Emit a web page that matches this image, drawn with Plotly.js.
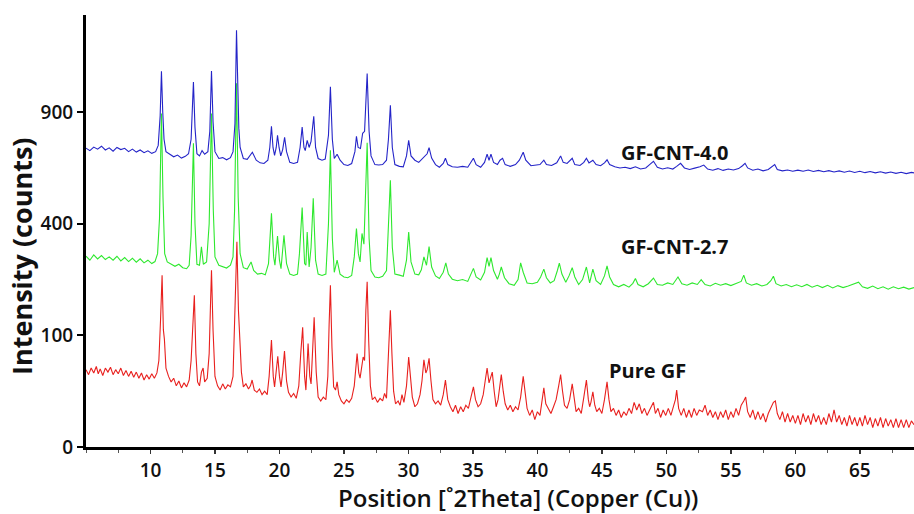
<!DOCTYPE html>
<html>
<head>
<meta charset="utf-8">
<script src="https://cdn.plot.ly/plotly-3.0.1.min.js"></script>
<style>html,body{margin:0;padding:0;background:#fff;}#chart{width:914px;height:514px;}</style>
</head>
<body>
<div id="chart"></div>
<script>
// X-ray diffraction patterns: [2Theta (deg), intensity (counts)]
const gfCnt40 = [[5.0,717],[5.3,705],[5.6,722],[5.9,712],[6.2,726],[6.5,708],[6.8,718],[7.1,702],[7.4,720],[7.7,710],[8.0,716],[8.3,700],[8.6,712],[8.9,698],[9.2,708],[9.5,695],[9.8,704],[10.1,692],[10.4,700],[10.6,730],[10.75,880],[10.85,1133],[10.95,900],[11.05,760],[11.2,700],[11.5,688],[11.8,676],[12.1,684],[12.4,670],[12.7,678],[12.95,690],[13.15,760],[13.33,1069],[13.45,820],[13.6,690],[13.8,680],[14.0,705],[14.2,688],[14.45,700],[14.6,800],[14.73,1135],[14.85,850],[15.0,700],[15.3,668],[15.6,672],[15.9,662],[16.2,672],[16.4,700],[16.55,840],[16.67,1394],[16.78,900],[16.85,816],[16.95,720],[17.2,668],[17.5,664],[17.9,697],[18.2,660],[18.5,648],[18.8,645],[19.1,660],[19.25,720],[19.38,826],[19.5,720],[19.62,683],[19.75,720],[19.85,780],[19.97,720],[20.1,680],[20.25,710],[20.4,770],[20.55,700],[20.8,650],[21.1,645],[21.4,650],[21.6,720],[21.76,821],[21.9,720],[22.0,705],[22.15,755],[22.3,720],[22.45,750],[22.66,878],[22.8,720],[23.0,668],[23.3,660],[23.55,665],[23.8,780],[23.95,1041],[24.1,760],[24.25,668],[24.47,688],[24.7,660],[25.0,640],[25.3,636],[25.6,645],[25.85,700],[25.97,775],[26.1,720],[26.28,715],[26.45,790],[26.6,800],[26.8,1119],[26.95,800],[27.1,680],[27.4,640],[27.7,638],[28.0,640],[28.3,660],[28.45,760],[28.6,937],[28.75,720],[28.95,640],[29.3,632],[29.6,630],[29.85,680],[30.02,755],[30.2,680],[30.5,660],[30.8,650],[31.1,670],[31.3,683],[31.45,690],[31.6,719],[31.8,670],[32.1,640],[32.4,628],[32.7,645],[32.87,669],[33.05,640],[33.4,630],[33.8,628],[34.2,632],[34.6,628],[34.85,650],[35.04,669],[35.25,640],[35.6,628],[35.9,650],[36.1,688],[36.25,660],[36.4,688],[36.6,650],[36.9,640],[37.1,660],[37.3,669],[37.5,640],[37.9,632],[38.3,640],[38.6,660],[38.9,697],[39.1,660],[39.5,635],[39.9,638],[40.2,640],[40.5,660],[40.7,640],[41.1,636],[41.5,648],[41.8,680],[42.0,650],[42.3,645],[42.7,669],[42.9,640],[43.3,636],[43.6,650],[43.8,669],[44.0,648],[44.3,660],[44.55,640],[44.9,635],[45.2,648],[45.4,662],[45.6,640],[46.0,630],[46.4,625],[46.8,628],[47.2,622],[47.6,630],[48.0,620],[48.4,625],[48.7,640],[49.0,655],[49.3,628],[49.7,620],[50.1,626],[50.5,620],[50.8,632],[51.1,646],[51.4,625],[51.8,618],[52.2,624],[52.6,630],[52.9,638],[53.2,620],[53.6,615],[54.0,622],[54.4,614],[54.8,620],[55.2,616],[55.6,622],[55.9,635],[56.1,646],[56.3,625],[56.7,615],[57.1,620],[57.5,612],[57.9,618],[58.2,630],[58.4,640],[58.6,618],[59.0,612],[59.4,616],[59.8,610],[60.2,615],[60.6,610],[61.0,616],[61.4,609],[61.8,614],[62.2,608],[62.6,613],[63.0,607],[63.4,612],[63.8,606],[64.2,611],[64.6,605],[65.0,610],[65.4,604],[65.8,609],[66.2,603],[66.6,608],[67.0,602],[67.4,607],[67.8,601],[68.2,606],[68.6,600],[69.0,605],[69.2,603]];

const gfCnt27 = [[5.0,292],[5.3,280],[5.6,296],[5.9,284],[6.2,294],[6.5,282],[6.8,290],[7.1,280],[7.4,292],[7.7,278],[8.0,288],[8.3,276],[8.6,286],[8.9,274],[9.2,284],[9.5,272],[9.8,280],[10.1,270],[10.35,276],[10.55,300],[10.7,420],[10.85,892],[10.97,500],[11.1,300],[11.3,275],[11.6,268],[11.9,262],[12.2,268],[12.5,258],[12.8,255],[13.0,265],[13.15,360],[13.33,740],[13.45,400],[13.6,268],[13.8,265],[13.95,322],[14.1,268],[14.35,275],[14.55,400],[14.73,892],[14.87,450],[15.0,290],[15.3,265],[15.6,260],[15.9,257],[16.2,265],[16.4,290],[16.52,450],[16.67,1062],[16.8,500],[16.95,300],[17.2,258],[17.5,254],[17.8,275],[18.0,250],[18.3,240],[18.6,242],[18.9,238],[19.15,270],[19.38,438],[19.55,290],[19.65,265],[19.85,357],[20.0,280],[20.12,255],[20.35,360],[20.55,270],[20.8,240],[21.1,236],[21.4,240],[21.55,300],[21.76,460],[21.95,270],[22.05,265],[22.15,371],[22.3,260],[22.45,320],[22.62,496],[22.8,280],[23.0,240],[23.3,236],[23.6,240],[23.8,400],[23.95,707],[24.1,350],[24.25,245],[24.47,280],[24.7,240],[25.0,232],[25.3,230],[25.6,236],[25.8,290],[25.97,383],[26.12,300],[26.25,275],[26.4,366],[26.55,330],[26.8,743],[26.95,350],[27.1,250],[27.4,232],[27.7,230],[28.0,234],[28.3,250],[28.45,400],[28.6,571],[28.75,320],[28.95,240],[29.3,237],[29.6,234],[29.85,280],[30.02,371],[30.2,275],[30.5,240],[30.8,238],[31.0,252],[31.2,290],[31.4,265],[31.6,322],[31.8,260],[32.1,235],[32.4,228],[32.7,245],[32.9,272],[33.1,240],[33.4,226],[33.8,222],[34.2,225],[34.6,220],[34.85,238],[35.04,256],[35.25,232],[35.6,224],[35.9,245],[36.1,288],[36.25,262],[36.4,288],[36.6,250],[36.9,226],[37.05,240],[37.2,260],[37.45,230],[37.8,214],[38.2,210],[38.5,225],[38.7,272],[38.9,245],[39.2,216],[39.6,214],[40.0,218],[40.25,232],[40.5,254],[40.7,230],[41.0,216],[41.3,222],[41.55,250],[41.7,271],[41.9,240],[42.2,218],[42.45,235],[42.7,258],[42.9,232],[43.2,212],[43.5,225],[43.8,260],[44.05,216],[44.3,254],[44.55,222],[44.9,212],[45.2,235],[45.4,263],[45.6,232],[45.9,212],[46.3,206],[46.7,212],[47.1,205],[47.4,215],[47.6,228],[47.8,212],[48.2,206],[48.6,214],[49.0,229],[49.3,212],[49.7,210],[50.1,216],[50.5,212],[50.9,232],[51.2,214],[51.6,210],[52.0,216],[52.4,212],[52.7,225],[53.0,212],[53.4,208],[53.8,215],[54.2,210],[54.6,214],[55.0,209],[55.4,214],[55.8,220],[56.0,237],[56.2,216],[56.6,210],[57.0,214],[57.4,208],[57.8,212],[58.1,222],[58.3,234],[58.5,214],[58.9,208],[59.3,212],[59.7,206],[60.1,211],[60.5,206],[60.9,212],[61.3,205],[61.7,210],[62.1,204],[62.5,210],[62.9,203],[63.3,209],[63.7,204],[64.1,208],[64.5,212],[64.9,218],[65.2,206],[65.6,202],[66.0,208],[66.4,201],[66.8,206],[67.2,200],[67.6,206],[68.0,201],[68.4,205],[68.8,200],[69.2,204]];

const pureGF = [[5.0,48],[5.2,42],[5.4,50],[5.6,44],[5.8,52],[5.95,43],[6.1,49],[6.3,41],[6.5,50],[6.7,45],[6.9,51],[7.1,42],[7.3,48],[7.5,43],[7.7,50],[7.9,41],[8.1,47],[8.3,40],[8.5,46],[8.7,39],[8.9,45],[9.1,38],[9.3,44],[9.5,36],[9.7,42],[9.9,37],[10.1,43],[10.3,38],[10.5,44],[10.65,60],[10.78,130],[10.9,237],[11.0,110],[11.08,93],[11.2,50],[11.4,40],[11.6,34],[11.8,38],[12.0,30],[12.2,35],[12.4,28],[12.6,33],[12.8,29],[13.0,36],[13.15,60],[13.3,140],[13.4,185],[13.52,70],[13.65,34],[13.8,30],[13.95,45],[14.08,50],[14.2,34],[14.4,38],[14.55,70],[14.65,160],[14.73,251],[14.85,110],[15.0,40],[15.2,30],[15.4,26],[15.6,32],[15.8,27],[16.0,31],[16.2,29],[16.4,40],[16.52,110],[16.62,250],[16.7,338],[16.82,150],[16.92,97],[17.05,45],[17.2,29],[17.4,32],[17.6,27],[17.75,30],[17.88,36],[18.05,26],[18.25,24],[18.45,27],[18.65,22],[18.85,25],[19.05,22],[19.2,40],[19.38,92],[19.52,40],[19.62,29],[19.75,45],[19.87,66],[20.0,40],[20.12,29],[20.25,45],[20.39,74],[20.55,35],[20.7,24],[20.9,20],[21.1,23],[21.3,19],[21.5,30],[21.65,70],[21.8,115],[21.95,40],[22.05,26],[22.22,86],[22.35,40],[22.45,32],[22.55,80],[22.69,135],[22.85,45],[23.0,20],[23.2,17],[23.4,20],[23.6,18],[23.75,40],[23.85,120],[23.95,210],[24.07,80],[24.2,29],[24.35,26],[24.47,34],[24.6,22],[24.8,17],[25.0,15],[25.2,18],[25.4,16],[25.6,19],[25.8,30],[26.02,70],[26.15,44],[26.25,38],[26.49,65],[26.6,60],[26.7,150],[26.8,219],[26.92,90],[27.05,30],[27.2,18],[27.4,20],[27.6,16],[27.8,19],[28.0,17],[28.15,23],[28.3,19],[28.45,60],[28.6,150],[28.72,70],[28.85,25],[29.0,15],[29.2,17],[29.35,14],[29.5,22],[29.65,16],[29.85,30],[30.02,65],[30.15,40],[30.3,20],[30.5,13],[30.7,15],[30.9,22],[31.05,35],[31.2,61],[31.35,44],[31.45,48],[31.6,63],[31.75,35],[31.9,18],[32.1,15],[32.3,17],[32.5,14],[32.7,22],[32.87,36],[33.05,18],[33.25,13],[33.45,10],[33.65,14],[33.85,9],[34.05,13],[34.25,10],[34.45,14],[34.65,12],[34.85,20],[35.04,29],[35.2,18],[35.4,13],[35.6,15],[35.8,22],[35.95,35],[36.1,50],[36.25,33],[36.35,38],[36.5,45],[36.65,25],[36.8,13],[36.95,18],[37.2,42],[37.35,25],[37.5,15],[37.7,11],[37.9,14],[38.1,10],[38.3,13],[38.5,11],[38.7,20],[38.9,40],[39.05,22],[39.2,12],[39.4,8],[39.6,11],[39.8,6],[40.0,10],[40.2,8],[40.35,16],[40.5,28],[40.65,15],[40.85,12],[41.05,9],[41.25,13],[41.45,18],[41.65,30],[41.8,42],[41.95,25],[42.1,14],[42.3,12],[42.5,18],[42.7,32],[42.85,18],[43.0,10],[43.2,12],[43.4,9],[43.6,20],[43.8,36],[43.95,18],[44.05,13],[44.15,16],[44.3,24.5],[44.45,14],[44.6,10],[44.8,12],[45.0,9],[45.2,18],[45.4,34],[45.55,18],[45.7,10],[45.9,12],[46.1,8],[46.3,11],[46.5,7],[46.7,10],[46.9,8],[47.1,12],[47.3,9],[47.5,16],[47.7,11],[47.9,15],[48.1,9],[48.3,12],[48.5,8],[48.7,11],[48.9,14],[49.0,16],[49.15,9],[49.35,12],[49.55,7],[49.75,11],[49.95,8],[50.15,12],[50.35,8],[50.55,13],[50.7,18],[50.8,26],[50.95,12],[51.15,8],[51.35,12],[51.55,7],[51.75,11],[51.95,7],[52.15,12],[52.35,8],[52.55,11],[52.8,10],[53.0,14],[53.2,8],[53.4,11],[53.6,7],[53.8,10],[54.0,6],[54.2,10],[54.4,7],[54.6,11],[54.8,6],[55.0,10],[55.2,7],[55.4,12],[55.6,8],[55.8,14],[56.0,17],[56.15,20],[56.3,10],[56.5,7],[56.7,11],[56.9,6],[57.1,10],[57.3,6],[57.5,9],[57.7,5],[57.9,9],[58.1,12],[58.3,16],[58.45,17],[58.6,9],[58.8,6],[59.0,10],[59.2,5],[59.4,9],[59.6,5],[59.8,8],[60.0,4.5],[60.2,8],[60.4,4],[60.6,9],[60.8,5],[61.0,8],[61.2,4],[61.4,9],[61.6,5],[61.8,8],[62.0,4],[62.2,7],[62.4,4],[62.6,9],[62.8,5],[63.0,11],[63.2,5],[63.4,8],[63.6,4],[63.8,7],[64.0,3.5],[64.2,8],[64.4,4],[64.6,7],[64.8,3.5],[65.0,7],[65.2,3.5],[65.4,8],[65.6,4],[65.8,7],[66.0,3],[66.2,6.5],[66.4,3.5],[66.6,7],[66.8,3],[67.0,6.5],[67.2,3.5],[67.4,6],[67.6,3],[67.8,6.5],[68.0,3],[68.2,6],[68.4,3],[68.6,6],[68.8,3],[69.0,5.5],[69.2,4]];

const seriesNames = ["Pure GF", "GF-CNT-2.7", "GF-CNT-4.0"];
const yTickCounts = [0, 100, 400, 900];
const xTickVals = [10, 15, 20, 25, 30, 35, 40, 45, 50, 55, 60, 65];

// square-root intensity scale
const sq = v => Math.sqrt(v);
function mk(pts, color, name) {
  return {
    type: "scatter", mode: "lines", name: name,
    x: pts.map(p => p[0]), y: pts.map(p => sq(p[1])),
    line: {color: color, width: 1.1}, hoverinfo: "x+name"
  };
}
const data = [
  mk(pureGF, "#e8201e", seriesNames[0]),
  mk(gfCnt27, "#2ee82e", seriesNames[1]),
  mk(gfCnt40, "#2424c8", seriesNames[2])
];

const tickFont = {family: "Open Sans, sans-serif", size: 19, color: "#111", weight: 600};
const labFont = {family: "Open Sans, sans-serif", size: 20, color: "#111", weight: 700};

const layout = {
  width: 914, height: 514,
  margin: {l: 86, r: 0, t: 15, b: 67, pad: 0},
  paper_bgcolor: "#fff", plot_bgcolor: "#fff",
  showlegend: false,
  xaxis: {
    range: [5, 69.2], tickvals: xTickVals, ticktext: xTickVals.map(String),
    showgrid: false, zeroline: false, showline: true, linecolor: "#000", linewidth: 3,
    ticks: "outside", ticklen: 4, tickwidth: 1.5, tickcolor: "#333",
    minor: {dtick: 2.5, tick0: 0, ticks: "outside", ticklen: 3, tickwidth: 1, tickcolor: "#555", showgrid: false},
    tickfont: tickFont
  },
  yaxis: {
    range: [0, 38.7], tickvals: yTickCounts.map(sq), ticktext: yTickCounts.map(String),
    showgrid: false, zeroline: false, showline: true, linecolor: "#000", linewidth: 3,
    ticks: "outside", ticklen: 6, tickwidth: 2, tickcolor: "#000",
    tickfont: tickFont
  },
  annotations: [
    {text: "Position [˚2Theta] (Copper (Cu))", xref: "paper", yref: "paper", x: 0.522, y: 0, yshift: -50,
     xanchor: "center", yanchor: "middle", showarrow: false,
     font: {family: "Open Sans, sans-serif", size: 24, color: "#111", weight: 600}},
    {text: "Intensity (counts)", xref: "paper", yref: "paper", x: 0, xshift: -64, y: 0.44,
     xanchor: "center", yanchor: "middle", textangle: -90, showarrow: false,
     font: {family: "Open Sans, sans-serif", size: 27, color: "#111", weight: 700}},
    {text: seriesNames[2], xref: "x", yref: "paper", x: 46.3, y: (447 - 152) / 432, xanchor: "left", yanchor: "middle", showarrow: false, font: labFont},
    {text: seriesNames[1], xref: "x", yref: "paper", x: 46.3, y: (447 - 246) / 432, xanchor: "left", yanchor: "middle", showarrow: false, font: labFont},
    {text: seriesNames[0], xref: "x", yref: "paper", x: 45.4, y: (447 - 370) / 432, xanchor: "left", yanchor: "middle", showarrow: false, font: labFont}
  ]
};

Plotly.newPlot("chart", data, layout, {staticPlot: true, displayModeBar: false});
</script>
</body>
</html>
